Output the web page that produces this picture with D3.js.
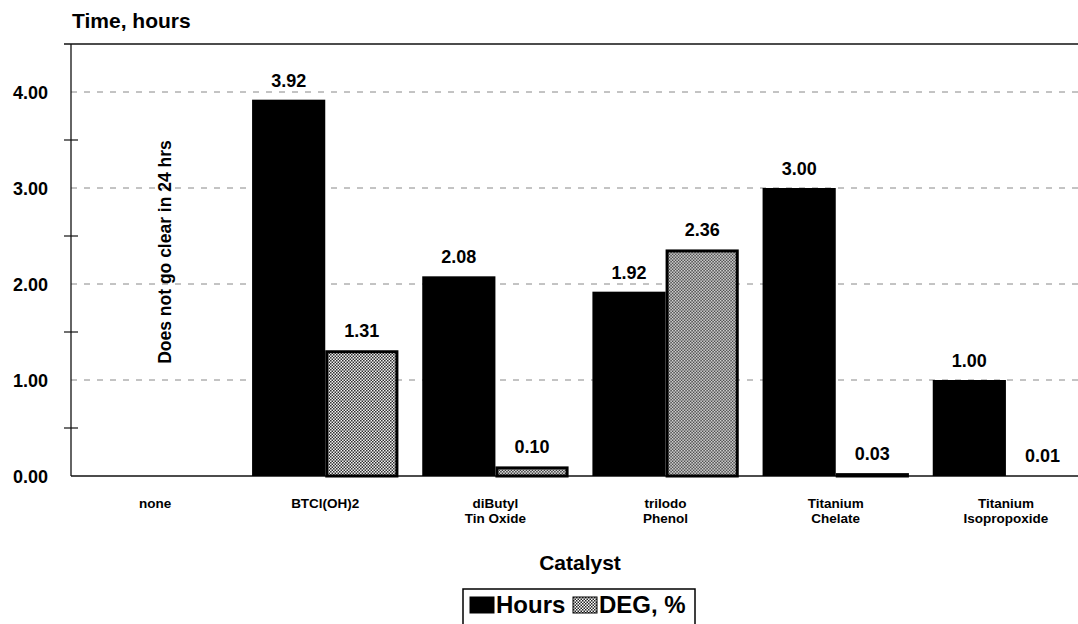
<!DOCTYPE html>
<html>
<head>
<meta charset="utf-8">
<script src="https://cdn.jsdelivr.net/npm/d3@7"></script>
<style>
  html, body { margin: 0; padding: 0; background: #fff; }
  svg { display: block; font-family: "Liberation Sans", Arial, sans-serif; }
</style>
</head>
<body>
<svg id="chart" width="1078" height="624"></svg>
<script>
// Catalyst names (line-broken for the axis) and the two measured series
const categories = ["none", "BTCl(OH)2", "diButyl|Tin Oxide", "triIodo|Phenol", "Titanium|Chelate", "Titanium|Isopropoxide"];
const seriesNames = ["Hours", "DEG, %"];
const hours = [null, 3.92, 2.08, 1.92, 3.00, 1.00];
const deg = [null, 1.31, 0.10, 2.36, 0.03, 0.01];
const yTicks = [0, 1, 2, 3, 4];
const yMinorTicks = [0.5, 1.5, 2.5, 3.5];
const noteText = "Does not go clear in 24 hrs";

const svg = d3.select("#chart");
const plot = { left: 71, top: 44, bottom: 476 };

const x0 = d3.scaleBand().domain(categories).range([70, 1091]).paddingInner(0.14).paddingOuter(0.07);
const x1 = d3.scaleBand().domain(seriesNames).range([0, x0.bandwidth()]);
const y = d3.scaleLinear().domain([0, 4.5]).range([plot.bottom, plot.top]);

// checkered fill for the DEG series
const defs = svg.append("defs");
const pat = defs.append("pattern").attr("id", "checker").attr("patternUnits", "userSpaceOnUse")
  .attr("width", 3).attr("height", 3);
pat.append("rect").attr("width", 3).attr("height", 3).attr("fill", "#fff");
pat.append("rect").attr("x", 0).attr("y", 0).attr("width", 1.5).attr("height", 1.5).attr("fill", "#222");
pat.append("rect").attr("x", 1.5).attr("y", 1.5).attr("width", 1.5).attr("height", 1.5).attr("fill", "#222");

// dashed gridlines
svg.append("g").selectAll("line").data(yTicks.filter(d => d > 0)).join("line")
  .attr("x1", plot.left).attr("x2", 1078)
  .attr("y1", d => y(d)).attr("y2", d => y(d))
  .attr("stroke", "#888").attr("stroke-width", 1).attr("stroke-dasharray", "6,7");

// frame: top border, left axis, baseline
svg.append("line").attr("x1", 64).attr("x2", 1078).attr("y1", y(4.5)).attr("y2", y(4.5))
  .attr("stroke", "#111").attr("stroke-width", 1.3);
svg.append("line").attr("x1", plot.left).attr("x2", plot.left).attr("y1", y(4.5)).attr("y2", y(0))
  .attr("stroke", "#111").attr("stroke-width", 1.3);
svg.append("line").attr("x1", plot.left).attr("x2", 1078).attr("y1", y(0)).attr("y2", y(0))
  .attr("stroke", "#111").attr("stroke-width", 1.5);

// minor ticks crossing the y axis
svg.append("g").selectAll("line").data(yMinorTicks).join("line")
  .attr("x1", plot.left - 7).attr("x2", plot.left + 7)
  .attr("y1", d => y(d)).attr("y2", d => y(d))
  .attr("stroke", "#111").attr("stroke-width", 1.2);

// y tick labels
svg.append("g").selectAll("text").data(yTicks).join("text")
  .attr("x", 48).attr("y", d => y(d) + 7)
  .attr("text-anchor", "end").attr("font-size", 18).attr("font-weight", "bold")
  .text(d => d3.format(".2f")(d));

// y axis title
svg.append("text").attr("x", 72).attr("y", 28).attr("font-size", 21).attr("font-weight", "bold")
  .text("Time, hours");

// bars
const rows = categories.map((c, i) => ({ cat: c, vals: [hours[i], deg[i]] }));
const groups = svg.append("g").selectAll("g").data(rows).join("g")
  .attr("transform", d => `translate(${x0(d.cat)},0)`);

const barData = d => d.vals.map((v, j) => ({ key: seriesNames[j], v })).filter(e => e.v != null);

groups.selectAll("rect").data(barData).join("rect")
  .attr("x", d => x1(d.key) + (d.key === "Hours" ? 0 : 1.5))
  .attr("width", d => x1.bandwidth() - (d.key === "Hours" ? 0 : 3))
  .attr("y", d => y(d.v) + (d.key === "Hours" ? 0 : 1.5))
  .attr("height", d => Math.max(0, y(0) - y(d.v) - (d.key === "Hours" ? 0 : 1.5)))
  .attr("fill", d => d.key === "Hours" ? "#000" : "url(#checker)")
  .attr("stroke", d => d.key === "Hours" ? "none" : "#000")
  .attr("stroke-width", 3);

// value labels
groups.selectAll("text.val").data(barData).join("text").attr("class", "val")
  .attr("x", d => x1(d.key) + x1.bandwidth() / 2)
  .attr("y", d => y(d.v) - 13)
  .attr("text-anchor", "middle").attr("font-size", 18).attr("font-weight", "bold")
  .text(d => d3.format(".2f")(d.v));

// note for the catalyst with no result
svg.append("text")
  .attr("transform", `translate(171,252) rotate(-90)`)
  .attr("text-anchor", "middle").attr("font-size", 17.5).attr("font-weight", "bold")
  .text(noteText);

// category labels
const catLabels = svg.append("g").selectAll("text").data(categories).join("text")
  .attr("x", d => x0(d) + x0.bandwidth() / 2)
  .attr("y", 508)
  .attr("text-anchor", "middle").attr("font-size", 13.5).attr("font-weight", "bold");
catLabels.selectAll("tspan").data(d => d.split("|")).join("tspan")
  .attr("x", function () { return d3.select(this.parentNode).attr("x"); })
  .attr("dy", (d, i) => i === 0 ? 0 : 15)
  .text(d => d);

// x axis title
svg.append("text").attr("x", 580).attr("y", 570).attr("text-anchor", "middle")
  .attr("font-size", 21).attr("font-weight", "bold").text("Catalyst");

// legend
const lg = svg.append("g");
lg.append("rect").attr("x", 463).attr("y", 589).attr("width", 232).attr("height", 44)
  .attr("fill", "#fff").attr("stroke", "#000").attr("stroke-width", 1.5);
const legendItems = [
  { name: seriesNames[0], fill: "#000", x: 470 },
  { name: seriesNames[1], fill: "url(#checker)", x: 573 }
];
legendItems.forEach(it => {
  lg.append("rect").attr("x", it.x).attr("y", 597).attr("width", 24).attr("height", 16)
    .attr("fill", it.fill).attr("stroke", "#000").attr("stroke-width", 1);
  lg.append("text").attr("x", it.x + 26).attr("y", 613).attr("font-size", 24).attr("font-weight", "bold")
    .text(it.name);
});
</script>
</body>
</html>
